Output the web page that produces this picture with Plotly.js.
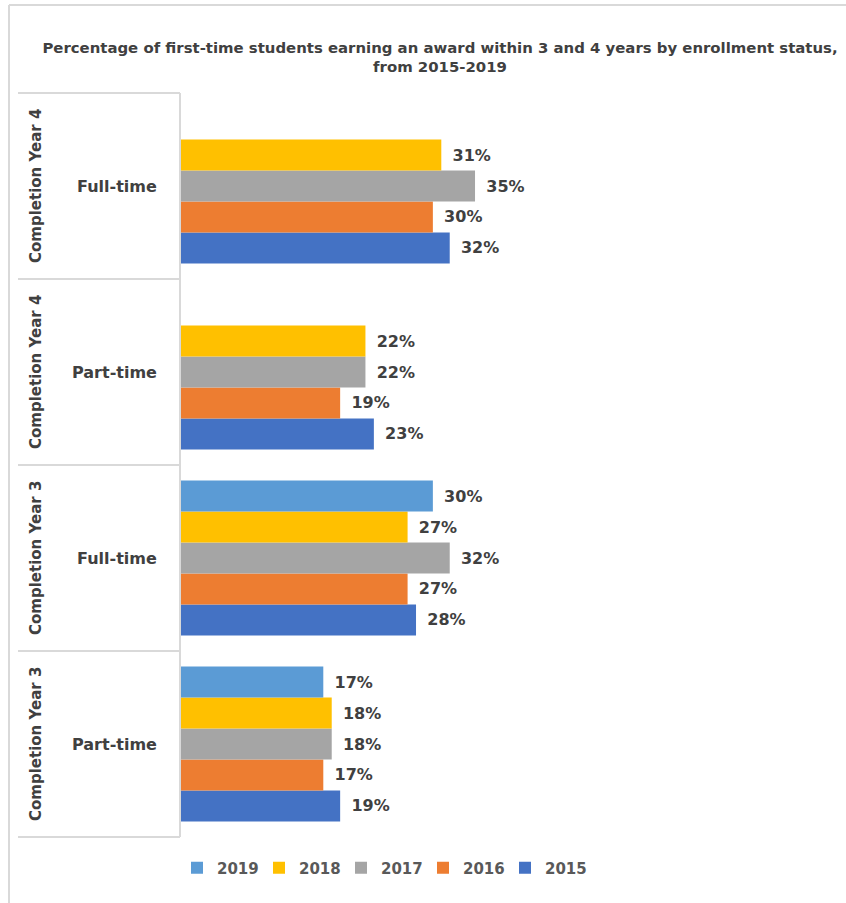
<!DOCTYPE html>
<html>
<head>
<meta charset="utf-8">
<script src="https://cdn.plot.ly/plotly-3.0.1.min.js"></script>
<style>html,body{margin:0;padding:0;background:#fff;}#chart{width:846px;height:903px;}</style>
</head>
<body>
<div id="chart"></div>
<script>
// ---- data (bottom to top, as Plotly stacks categories upward) ----
const groups = ["Completion Year 3", "Completion Year 3", "Completion Year 4", "Completion Year 4"];
const statuses = ["Part-time", "Full-time", "Part-time", "Full-time"];
const years = ["2015", "2016", "2017", "2018", "2019"];
const v2015 = [19, 28, 23, 32];
const v2016 = [17, 27, 19, 30];
const v2017 = [18, 32, 22, 35];
const v2018 = [18, 27, 22, 31];
const v2019 = [17, 30, null, null];
const colors = ["#4472C4", "#ED7D31", "#A5A5A5", "#FFC000", "#5B9BD5"];
const titleText = "Percentage of first-time students earning an award within 3 and 4 years by enrollment status,<br>from 2015-2019";

const categories = groups.map((g, i) => g + " | " + statuses[i]);
const series = [v2015, v2016, v2017, v2018, v2019];

const labelFont = {family: "DejaVu Sans", size: 16, color: "#404040", weight: "bold"};

const traces = series.map((vals, k) => ({
  type: "bar",
  orientation: "h",
  name: years[k],
  y: categories,
  x: vals,
  marker: {color: colors[k]},
  text: vals.map(v => v == null ? "" : "\u00A0\u2006" + v + "%"),
  textposition: "outside",
  textfont: labelFont,
  constraintext: "none",
  cliponaxis: false,
  hoverinfo: "skip"
}));

// plot geometry helpers (paper coords)
const PL = 180, PR = 840, PT = 93, PB = 837;
const px = p => (p - PL) / (PR - PL);
const py = p => (PB - p) / (PB - PT);
const lineStyle = {color: "#d9d9d9", width: 2};

const shapes = [];
for (let i = 0; i <= categories.length; i++) {
  shapes.push({type: "line", xref: "paper", yref: "paper", x0: px(18), x1: 0, y0: i / categories.length, y1: i / categories.length, line: lineStyle});
}
shapes.push({type: "line", xref: "paper", yref: "paper", x0: 0, x1: 0, y0: 0, y1: 1, line: lineStyle});
shapes.push({type: "line", xref: "paper", yref: "paper", x0: px(9), x1: px(846), y0: py(5), y1: py(5), line: lineStyle});
shapes.push({type: "line", xref: "paper", yref: "paper", x0: px(9), x1: px(9), y0: py(5), y1: py(903), line: lineStyle});

const annotations = [];
categories.forEach((c, i) => {
  annotations.push({xref: "paper", yref: "y", x: px(159), y: i, xanchor: "right", yanchor: "middle",
    text: statuses[i], showarrow: false, font: {family: "DejaVu Sans", size: 16, color: "#404040", weight: "bold"}});
  annotations.push({xref: "paper", yref: "y", x: px(36), y: i, xanchor: "center", yanchor: "middle", textangle: -90,
    text: groups[i], showarrow: false, font: {family: "DejaVu Sans", size: 15, color: "#404040", weight: "bold"}});
});

const layout = {
  width: 846, height: 903,
  margin: {l: PL, r: 846 - PR, t: PT, b: 903 - PB, autoexpand: false},
  paper_bgcolor: "#ffffff", plot_bgcolor: "#ffffff",
  title: {text: titleText, x: 440 / 846, xanchor: "center", xref: "container", y: 1 - 53 / 903, yanchor: "middle", yref: "container",
    font: {family: "DejaVu Sans", size: 14.9, color: "#404040", weight: "bold"}},
  barmode: "group", bargap: 0.167, bargroupgap: 0,
  xaxis: {range: [0, 78.3], visible: false, showgrid: false, zeroline: false, fixedrange: true},
  yaxis: {type: "category", categoryorder: "array", categoryarray: categories, range: [-0.5, 3.5],
    showticklabels: false, showgrid: false, zeroline: false, showline: false, ticks: "", fixedrange: true},
  legend: {orientation: "h", traceorder: "reversed", x: px(177), xanchor: "left", y: py(868), yanchor: "middle",
    entrywidth: 37, entrywidthmode: "pixels",
    font: {family: "DejaVu Sans", size: 15, color: "#595959", weight: "bold"}, bgcolor: "rgba(0,0,0,0)"},
  shapes: shapes,
  annotations: annotations,
  showlegend: true
};

Plotly.newPlot("chart", traces, layout, {displayModeBar: false, staticPlot: true});
</script>
</body>
</html>
